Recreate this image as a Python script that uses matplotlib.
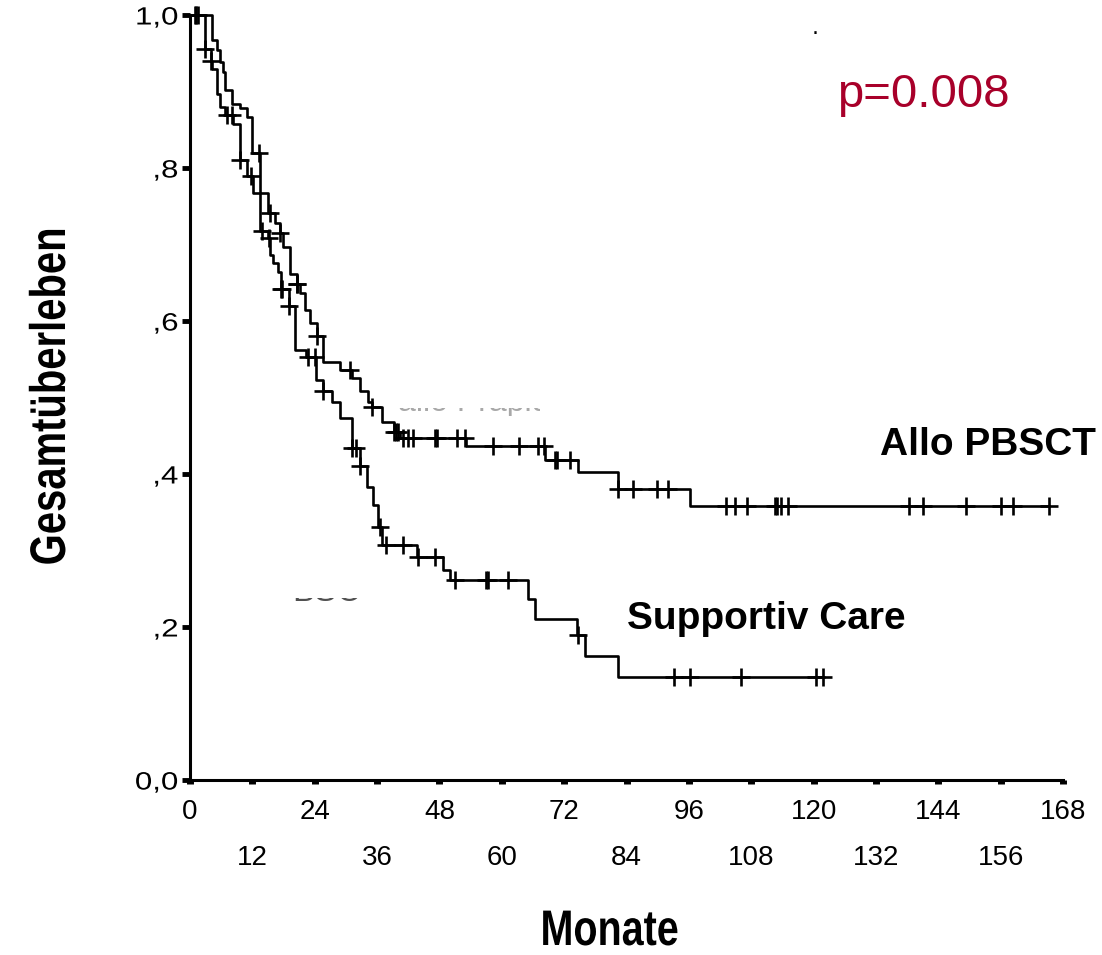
import numpy as np
import matplotlib
matplotlib.use("Agg")
import matplotlib.pyplot as plt
from matplotlib.patheffects import AbstractPathEffect
from matplotlib.transforms import Affine2D, Bbox

# ---------------- data ----------------
allo_times = [0, 4.2, 5.2, 5.8, 6.4, 6.7, 8.0, 9.6, 10.9, 11.9, 13.5, 15.1, 16.3, 17.3,
              17.9, 19.2, 20.5, 21.2, 22.1, 23.1, 24.4, 25.6, 28.9, 31.1, 32.7, 34.3,
              35.0, 36.9, 39.2, 40.4, 53.2, 68.3, 74.6, 82.4, 96.3]
allo_surv = [1.0, 0.967, 0.954, 0.939, 0.926, 0.902, 0.884, 0.878, 0.867, 0.82, 0.767,
             0.741, 0.728, 0.715, 0.697, 0.662, 0.648, 0.636, 0.614, 0.597, 0.58, 0.547,
             0.536, 0.525, 0.508, 0.494, 0.488, 0.468, 0.455, 0.447, 0.436, 0.418,
             0.402, 0.38, 0.358]
allo_end = 165.4
allo_censored = [1.0, 1.5, 13.3, 15.4, 17.3, 20.5, 20.6, 24.4, 30.8, 35.0, 39.2, 39.6,
                 40.0, 41.0, 42.0, 42.9, 47.1, 47.6, 51.3, 52.9, 58.4, 63.4, 67.0, 68.2,
                 70.3, 70.7, 73.1, 82.4, 85.3, 89.8, 92.0, 103.2, 104.8, 107.1, 112.5,
                 112.9, 113.8, 115.0, 138.4, 141.0, 149.4, 156.1, 158.3, 165.4]

sc_times = [0, 2.9, 4.0, 4.2, 5.1, 5.8, 6.7, 8.3, 9.6, 10.9, 12.2, 13.5, 15.0, 15.3,
            16.0, 17.0, 17.6, 19.0, 20.2, 22.4, 24.3, 25.6, 27.3, 28.9, 31.1, 32.7,
            34.0, 35.3, 36.2, 36.9, 43.6, 48.7, 50.0, 65.1, 66.4, 74.5, 76.0, 82.4]
sc_surv = [1.0, 0.955, 0.94, 0.93, 0.897, 0.88, 0.869, 0.858, 0.81, 0.789, 0.767, 0.717,
           0.708, 0.686, 0.676, 0.664, 0.642, 0.62, 0.562, 0.553, 0.523, 0.508, 0.494,
           0.473, 0.434, 0.41, 0.383, 0.359, 0.331, 0.307, 0.292, 0.275, 0.261, 0.236,
           0.211, 0.19, 0.162, 0.134]
sc_end = 121.8
sc_censored = [1.2, 2.9, 4.0, 7.1, 8.0, 9.6, 11.8, 13.8, 15.2, 17.6, 17.7, 19.0, 22.7,
               24.1, 25.6, 31.1, 31.9, 32.7, 36.6, 37.8, 41.0, 43.9, 47.1, 51.0, 57.0,
               57.3, 61.2, 74.7, 93.2, 96.2, 106.1, 120.5, 121.8]

x_major = [0, 24, 48, 72, 96, 120, 144, 168]
x_minor = [12, 36, 60, 84, 108, 132, 156]
y_ticks = [0.0, 0.2, 0.4, 0.6, 0.8, 1.0]
y_ticklabels = ["0,0", ",2", ",4", ",6", ",8", "1,0"]

label_allo = "Allo PBSCT"
label_sc = "Supportiv Care"
p_text = "p=0.008"

arial = "Liberation Sans"


class Stretch(AbstractPathEffect):
    """Scale the rendered text path about an anchor of its own bounding box."""

    def __init__(self, sx=1.0, sy=1.0, fx=0.5, fy=0.5):
        super().__init__()
        self.sx, self.sy, self.fx, self.fy = sx, sy, fx, fy

    def draw_path(self, renderer, gc, tpath, affine, rgbFace=None):
        v = affine.transform(tpath.vertices)
        if len(v):
            x0, y0 = v.min(axis=0)
            x1, y1 = v.max(axis=0)
            cx = x0 + self.fx * (x1 - x0)
            cy = y0 + self.fy * (y1 - y0)
            aff = affine + Affine2D().translate(-cx, -cy).scale(self.sx, self.sy).translate(cx, cy)
        else:
            aff = affine
        renderer.draw_path(gc, tpath, aff, rgbFace)


W, H = 1102, 955
fig = plt.figure(figsize=(W / 100, H / 100), dpi=100)
ax = fig.add_axes([190 / W, (H - 780) / H, (1063 - 190) / W, (780 - 15) / H])
ax.set_xlim(0, 168)
ax.set_ylim(0, 1.0)


def draw_km(times, surv, end, cens):
    t = list(times) + [end]
    s = list(surv) + [surv[-1]]
    ax.step(t, s, where="post", color="black", lw=1.9, clip_on=False, zorder=3)
    tt = np.array(times)
    idx = np.searchsorted(tt, np.array(cens), side="right") - 1
    cy = np.array(surv)[idx]
    ax.plot(cens, cy, linestyle="none", marker="+", ms=12.5, mew=1.9, color="black",
            clip_on=False, zorder=4)


draw_km(allo_times, allo_surv, allo_end, allo_censored)
draw_km(sc_times, sc_surv, sc_end, sc_censored)

for side in ("top", "right"):
    ax.spines[side].set_visible(False)
for side in ("left", "bottom"):
    ax.spines[side].set_linewidth(2.2)

ax.set_yticks(y_ticks)
ax.set_yticklabels(y_ticklabels, fontfamily=arial, fontsize=18)
ax.tick_params(axis="y", direction="out", length=5.5, width=3.5, pad=3)
for t in ax.get_yticklabels():
    t.set_path_effects([Stretch(sx=1.25, fx=1.0)])

ax.set_xticks(x_major)
ax.set_xticklabels([str(v) for v in x_major], fontfamily=arial, fontsize=20)
ax.set_xticks(x_minor, minor=True)
ax.set_xticklabels([str(v) for v in x_minor], minor=True, fontfamily=arial, fontsize=20)
ax.tick_params(axis="x", which="major", direction="out", length=3, width=5, pad=11)
ax.tick_params(axis="x", which="minor", direction="out", length=3, width=5, pad=44)

ylab = fig.text(52 / W, 1 - 396 / H, "Gesamtüberleben", rotation=90, ha="center", va="center",
                fontfamily=arial, fontweight="bold", fontsize=36)
ylab.set_path_effects([Stretch(sy=0.8)])
xlab = fig.text(610 / W, 1 - 932 / H, "Monate", ha="center", va="center",
                fontfamily=arial, fontweight="bold", fontsize=36)
xlab.set_path_effects([Stretch(sx=0.79)])

fig.text(988 / W, 1 - 445 / H, label_allo, ha="center", va="center",
         fontfamily=arial, fontweight="bold", fontsize=28)
fig.text(766 / W, 1 - 619 / H, label_sc, ha="center", va="center",
         fontfamily=arial, fontweight="bold", fontsize=28)
fig.text(923 / W, 1 - 95 / H, p_text, ha="center", va="center",
         fontfamily=arial, fontsize=34, color="#A8002A")
fig.text(815 / W, 1 - 34 / H, ".", ha="center", va="baseline", fontsize=16, color="black")

# remnants of hidden labels: only a thin strip of their lower edge is visible
g1 = fig.text(398 / W, 1 - 411 / H, "allo Prapid", ha="left", va="baseline",
              fontfamily=arial, fontsize=23, color="#a8a8a8")
g1.set_clip_box(Bbox.from_extents(390, H - 416, 540, H - 408))
g2 = fig.text(292 / W, 1 - 601 / H, "BSC", ha="left", va="baseline",
              fontfamily=arial, fontsize=24, color="#505050")
g2.set_clip_box(Bbox.from_extents(285, H - 603, 360, H - 598))

fig.savefig("out.png", dpi=100)
